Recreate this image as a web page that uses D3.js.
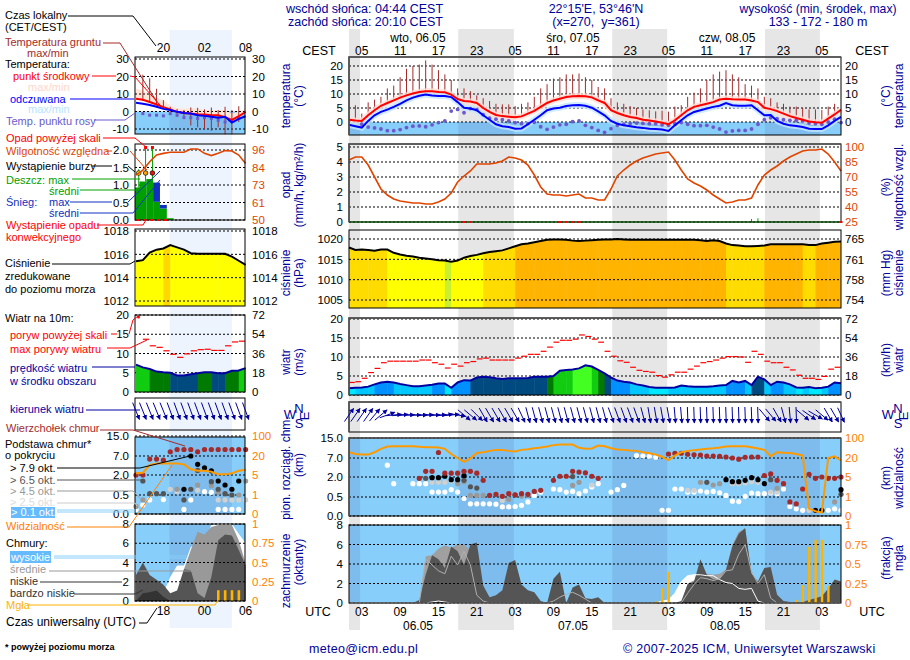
<!DOCTYPE html>
<html>
<head>
<meta charset="utf-8">
<script src="https://d3js.org/d3.v7.min.js"></script>
<style>
body { margin:0; background:#fff; }
svg { display:block; }
text { font-family:"Liberation Sans",Arial,sans-serif; font-size:12.5px; }
</style>
</head>
<body>
<script>
// hourly values, main meteogram: hour 0 = 06.05 01 UTC
var tempMid = [0.8,0.5,0.4,2.4,4.2,5.8,6.8,7.7,8.7,9.5,10.2,10.7,11,11,10.7,10.6,9.8,8.2,7.5,7.3,6.8,5,3.6,2.5,2.1,1.9,1.7,2,3,4,5.4,6.8,7.7,8.3,8.9,9.2,9.3,9.2,8.8,7.7,6.8,4.2,3.2,2.4,1.8,1.4,0.8,0.5,0.2,-0.3,-0.8,0.6,2.4,4.2,5.4,6,6.5,7.1,8,8.3,8.1,8,8,7.7,7.1,5.1,4.6,3.9,3,2.1,1.4,0.8,0.2,-0.1,-0.3,1.2,2.7,4.4];
var tempFeels = [-1,-1.5,-2,0.4,2.4,3.6,4.4,5.4,6.5,7.7,8.7,9.4,9.8,9.5,9.3,9.3,8.9,7.1,5.1,4.8,4.2,2.4,0.8,-0.8,-1.5,-1.8,-2.4,-2.3,-0.8,0.8,2.4,4.2,4.8,5.1,5.7,6,6.1,5.8,5.1,3.8,2.4,0.4,-0.6,-1.2,-1.5,-1.9,-2.1,-2.4,-2.5,-2.7,-3.2,-1.2,0.6,2.4,3.6,4.2,4.8,5.4,5.8,6.8,6,5.8,5.8,6,4.2,2.4,2.5,0.4,-0.6,-1.2,-1.4,-1.8,-2.4,-2.5,-2.5,-1.2,0.4,1.8];
var groundMax = [null,6,3,7,8,9,12,13,16,19,20,20.5,22,20.5,18.5,17,15,12,12,11,9.5,8.5,7.5,6.5,6.3,6.3,5.7,6.5,7,9,12,13.5,15.5,16,17,17,17.3,16,15,12.5,12,8.5,7,6.5,5.7,5,4.5,4.2,3.8,4,3.7,5.5,6,9,10.5,12,15,17,18,18.5,17,16,13.5,13,12,9,8.5,7,6.5,5.5,5.5,5,4.5,4.5,4.3,5.5,6.5,null];
var dewPoint = [null,null,-0.8,-1.8,-2.1,-2.5,-3.1,-3.1,-2.7,-2,-1.5,-1.4,-1.7,-1,-0.2,0.4,3.9,4.5,3.3,4.8,4.4,2.6,1.4,1,0.8,0.4,-0.2,-0.6,-0.6,-0.1,-1.7,-2.6,-1.8,-1,-0.8,0.1,0.4,-1.2,-2,-3,-3.7,-2.4,-1.2,-0.8,-0.6,-0.4,-0.5,-0.6,-0.6,-1,-1.2,-0.6,-0.2,-0.8,-1.3,-1.3,-1.2,-1.8,-2.5,-3.6,-3.2,-3,-3,-2.5,-0.8,0.8,1.5,1.2,0.8,0.6,0.6,0.4,-0.4,-0.6,-0.8,0,1,-0.2];
var humidity = [87,90,90,82,70,58,52,48,46,45,44,44,43,43,45,48,54,65,71,76,83,83,83,84,86,90,89,87,82,72,60,53,52,52,51,52,53,49,49,47,47,58,71,77,82,86,89,91,93,94,95,87,77,68,64,61,57,52,48,44,45,47,47,49,62,72,77,81,86,90,93,96,97,97,98,93,85,76];
var pressure = [1017.9,1017.3,1017.4,1017.3,1017.1,1017.4,1017.4,1016.6,1016.2,1015.9,1015.7,1015.4,1015.2,1015,1014.8,1014.7,1014.4,1014.7,1015.4,1015.8,1016.1,1016.5,1016.8,1017,1017.2,1017.7,1018.2,1018.7,1018.9,1019.2,1019.5,1019.8,1019.9,1019.9,1019.8,1019.6,1019.5,1019.6,1019.7,1019.8,1019.9,1019.9,1020,1019.9,1019.8,1019.8,1019.8,1019.8,1019.8,1019.8,1019.8,1019.8,1019.8,1019.8,1019.8,1019.7,1019.5,1019.7,1019.5,1018.9,1018.5,1018.4,1018.2,1018.2,1018.3,1018.4,1018.7,1018.7,1018.7,1018.7,1018.7,1018.7,1018.5,1018.5,1018.9,1019.1,1019.3,1019.4];
var windSpeed = [1.8,1.9,2,2.2,2.8,3.3,3.5,3.3,2.9,2.6,2.3,2.3,2.5,2.7,3,3,1.9,3.3,3.9,3.8,4.6,4.8,4.7,4.4,4.2,4.4,4.4,4.4,4.5,4.8,4.8,4.8,5,6.4,6.6,6.7,7,7.8,7.5,6.6,5.7,4.6,3.8,3.5,3.3,2.8,2.5,2.1,1.9,1.9,1.9,2,2.5,2.3,2.2,2.2,2.2,2.3,2.5,2.6,3.7,3.3,3.7,2.6,4.8,4.1,2.6,3.5,3.3,2.8,2,1.9,2.1,1.8,1.9,2.2,3.3,3.1];
var windGust = [3.3,3.5,4.4,5.9,7,8.5,8.9,8.9,8.9,8.9,8.9,9.2,9.2,8.5,8.1,7.1,8.1,7.6,8.5,8.8,9.5,9.7,9.2,9.2,9.2,9.2,9.7,10.2,10.7,10.7,11.5,12.6,13.9,14.4,14.4,14.7,15.8,15.4,14.7,13.9,11.5,10.2,9,8.6,7.3,6.5,6.2,6,5.1,4.7,5.3,6,6,6.8,7.6,8.5,8.8,9.2,9.7,10.1,10.1,10,8.6,11.5,10.7,8.9,8.5,8.5,7.3,6.6,5.2,4.4,4.4,4.1,4.9,6.8,7.3,7.3];
var windDir = [35,35,35,35,40,50,70,85,85,88,90,90,88,90,88,85,85,100,130,130,135,150,150,150,150,150,150,155,165,165,165,165,165,165,165,165,165,165,165,165,165,160,160,160,160,160,165,170,170,170,170,175,175,178,178,178,178,178,178,178,178,178,178,178,178,140,140,150,165,175,178,130,125,120,130,150,150,155];
var visibility = [43,36,33.6,33.6,43,56.6,66,67,67,67,67,64.7,63,63,62,56.6,36,20,17,19.7,40,43,48.5,52.5,52.5,48.5,46,52.5,55,59,62,66,71.5,74,74,74,60.7,56.6,58,70,67,59,54,52.5,50,48.5,43,39,33.6,25,18.4,29.5,43,48.5,51,54,56.6,59,62,66,67,67,67,63,58,52.5,26.8,43,41,40,36,29.5,0.39,0.25,0.18,20,26.8,18];
var cloudLow = [0,0,0,0,0,0,0,0,0,0,0,0.3,2.9,4.9,4.5,3.6,5.8,5.3,3.9,6,6.2,1.8,0.6,0.8,1.3,4.1,4.4,1.9,1.3,1.1,0.2,0,2.5,3.2,0,1.6,1.9,0.5,0.4,0.6,0,0,0,0,0,0,0,0,0,0,0,0,0.2,1.9,2.2,4.5,2.9,2.4,2.5,3.4,5.8,7.1,7.7,3,2.2,3.6,3.7,0.85,0.2,0.1,0.1,0.1,0.3,0.5,0.7,1.5,2.4,2.2];
var cloudMid = [0,0,0,0,0,0,0,0,0,0,0,0,4.8,4.9,5.6,5.9,5.7,6,6,5.4,3,0,0,0,0,0,0,0,0,0,0,0,0,0,0,0,0,0,0,0,0,0,0,0,0,0,0,0,0,0,0,0,0,2,2.3,2.9,3,2.9,3,3.4,6,7.3,7.6,3,2,1,0.4,0,0,0,0,0,0,0,0,0,0,0];
var cloudHigh = [0,0,0,0,0,0,0,0,0,0,0,0,0,0.1,0.2,0.1,0,0,0,0,0,0,0,0,0,0,0,0,0,0,0,0,0,0,0,0,0,0,0,0,0,0,0,0,0,0,0,0,0,0.2,0.3,1,2.2,2.8,2.9,2.9,2.8,2.8,2.4,2.1,2,1.5,1.4,1.5,0.2,0,0,0,0,0,0,0,0,0,0,0,0,0];
var cloudOutline = [0,0,0,0,0,0,0,0,0,0,0,0,4.5,3.9,3.3,3,4.8,3.9,5.3,3.9,0.8,0.2,0,0,0,0,0,0,0,0,0,0,0.2,0.6,0.9,1.1,0.8,0.4,0,0,0,0,0,0,0,0,0,0,0,0,0,0,0,1,1.9,2.6,2.5,2.3,2.5,3.3,3.4,5,6,3.2,2,2.9,0.5,0,0,0,0,0,0,0,0,0,0,0];
var fog = [0,0,0,0,0,0,0,0,0,0,0,0,0,0,0,0,0,0,0,0,0,0,0,0,0,0,0,0,0,0,0,0,0,0,0,0,0,0,0,0,0,0,0,0,0,0,0,0,0.02,0.19,0.4,0,0,0,0,0,0,0,0,0,0,0,0,0,0,0,0,0,0,0,0.04,0.23,0.72,0.81,0.81,0.22,0,0];
var rainMax = [[63,0.2],[64,0.25]];
var convective = [18,19,33,34,35,36,77];

// cloud base per cover class, pairs of hour and km
var baseTop = [[11,1.9],[12,3.5],[13,3.5],[14,9.2],[15,3],[16,3],[17,3],[18,3.5],[19,3.5],[20,3],[21,1.75],[22,0.62],[23,0.7],[24,0.55],[25,0.75],[26,0.67],[27,0.75],[28,0.7],[29,0.92],[30,1],[32,1.75],[33,2.2],[34,2.2],[35,3.5],[36,3.3],[37,3.1],[38,2.2],[39,1.9],[50,8.6],[51,8.9],[52,8.9],[53,8.5],[54,8.3],[55,8.2],[56,7.8],[57,7.8],[58,7.7],[59,7.4],[60,7],[61,6.7],[62,7.3],[63,7.4],[64,7.4],[65,2.4],[66,2.8],[67,1.75],[68,1.5],[69,0.37],[70,0.32],[71,1.1],[72,2.7],[73,1.9],[74,2],[75,1.9],[76,1.9],[77,2]];
var base79 = [[13,1.95],[14,1.95],[15,2.2],[16,1.8],[17,1.8],[18,2.4],[59,1.8],[60,1.65],[61,1.65],[62,1.75],[63,1.95],[64,1.8],[65,1.5],[73,0.15],[74,0.15],[77,1.05]];
var base65 = [[12,1.9],[18,1.75],[19,1.27],[20,1.17],[26,0.65],[35,2.1],[56,1.6],[66,1.8],[77,0.7]];
var base45 = [[17,1.5],[18,1.65],[19,0.62],[20,0.62],[21,0.62],[25,0.44],[27,0.57],[28,0.62],[35,1.37],[36,1.6],[55,1.6],[57,1.4],[58,1.5],[67,1.15],[76,0.37]];
var base25 = [[13,1.6],[14,1.6],[15,1.6],[16,1.7],[24,0.41],[34,2.1],[38,1.4],[53,1],[54,1],[60,1.5],[61,1.5],[62,1.55],[63,1.65],[64,1.6],[66,0.87],[67,0.87],[72,0.15],[73,0.15]];
var base01 = [[6,5.1],[7,1.5],[10,1.5],[11,1.5],[12,1.5],[13,0.87],[14,0.87],[15,0.87],[16,1.05],[17,0.87],[18,0.46],[19,0.32],[20,0.32],[21,0.32],[22,0.32],[23,0.31],[24,0.24],[25,0.24],[26,0.25],[27,0.28],[28,0.37],[29,0.62],[30,0.87],[32,1.1],[33,1.05],[34,0.87],[35,0.92],[36,0.75],[37,0.95],[38,1.25],[39,1.5],[41,0.87],[42,1.05],[43,1.37],[45,8],[46,7.9],[47,7.7],[48,7.3],[49,0.15],[50,0.15],[51,1.1],[52,1.1],[53,0.87],[54,0.87],[55,0.95],[56,0.87],[57,0.92],[58,0.82],[59,0.62],[60,0.39],[61,0.38],[62,0.55],[63,0.8],[64,0.75],[65,0.75],[66,0.8],[67,0.75],[68,1.1],[69,0.25],[70,0.19],[71,0.15],[75,0.15],[76,0.19],[77,0.15]];

// small left column: hour 0 = 14 UTC of the day before
var tempMidL = [7.3,6.7,5.4,4,2.5,1.2,-0.2,-0.8,-1.2,-1.5,-1.7,-2.1,-2.1,-3.2,-4.8,-2.7,-0.2];
var tempFeelsL = [5,4.4,3.7,2.7,1.5,0.8,-0.2,-0.8,-1.2,-2.1,-2.5,-3,-3.5,-3,-6.3,-4.2,-2.7];
var tempPaleL = [13,12,10,8,6.5,3.5,1.7,1.7,1.7,1.7,0.8,0.8,0.8,0.8,-1.2,-0.2,1.7];
var groundMaxL = [null,21,19,13,6.5,2.7,1.5,0.8,2.3,2.1,1.2,2.3,0.8,2.7,0.8,3,null];
var groundMinL = [null,6,5,3.5,1.5,-2,-3,-4,-8,-9,-10,-11,-9,-13,-13,-6,null];
var dewPointL = [null,-1.2,-2.1,-2.1,-2.5,-1.2,-2.1,-3.5,-3.5,-4,-3.5,-4,-5,-6,-5.5,-4,null];
var humidityL = [79.5,82.8,88.3,92.7,93.8,94.5,94.5,94.5,96.7,96.7,93.8,92.3,93.8,95.6,95.3,92.7,87.2];
var rainMeanL = [0.93,1.1,1.17,0.52,0.33,0.05,0,0,0,0,0,0,0,0,0,0,0];
var snowMeanL = [0,0,0,0.55,0.1,0,0,0,0,0,0,0,0,0,0,0,0];
var rainMaxL = [1.45,2.2,2.2];
var stormL = ["#ffee00","#ffa500","#ee1100"];
var convectiveL = [0,1,2,3,4];
var pressureL = [1015.4,1015.5,1016.15,1016.4,1016.5,1016.8,1016.6,1016.4,1016.1,1016.05,1016.05,1016.05,1016.05,1016.05,1015.8,1015.45,1015.1];
var windSpeedL = [7.1,6.4,6,5.3,5.1,5,4.3,4.3,4.6,4.9,5.1,5.1,4.9,4.9,5.5,5.6,6.2];
var windGustL = [null,13.7,12,11.6,10.7,9.8,9,9.9,10.7,11,11.1,10.8,10.8,12,13,13.2,null];
var windDirL = [158,158,158,158,158,160,160,160,160,160,160,160,160,160,160,160,160];
var visibilityL = [6.3,6.8,12.9,14,14,14,14,13.4,9.5,8.4,8.4,7.6,5.5,5.5,6.3,8.4,9.2];
var cloudLowL = [2.7,4,2.7,2.2,1.7,0.8,1.1,3.3,3.2,0.8,0.3,2.5,6.3,6.9,6.8,5.3,3.7];
var cloudMidL = [0,0,0,0,0,0,0,3.3,5.3,7.2,6.9,7.7,7.9,7.9,7.9,6.3,3.9];
var cloudHighL = [0,0,0,0,0.8,2.5,3.7,3.7,5.6,6,6,7.9,8,8,8,7,6];
var cloudVeryLowL = [0,0.8,0.9,1.1,0.45,0,0,0,0,0,0,0,0,0,0,0,0];
var fogL = [0,0,0,0,0,0,0,0,0,0,0,0,0.14,0.14,0.14,0.14,0];
var baseTopL = [[0,2],[1,2],[2,6.2],[3,6.2],[4,5.9],[5,8.7],[6,9.6],[7,9.6],[8,9.6],[9,8.7],[10,9.6],[11,9.6],[12,9.6],[13,9.6],[14,9.6],[15,9.6],[16,9.6]];
var base79L = [[7,0.93],[8,7],[9,4.8],[10,3.9],[11,3.1],[12,1.55],[13,1.25],[14,0.93],[15,1.55]];
var base65L = [[1,1.55],[2,0.6],[3,0.6],[4,0.6],[7,0.37],[8,0.93],[9,3.2],[11,1.5],[12,0.93],[13,0.6],[14,0.5]];
var base45L = [[0,0.2],[1,0.37],[6,0.93],[9,1.25],[11,1.2],[12,0.7],[15,0.5],[16,1.55]];
var base25L = [[5,0.93],[6,0.75],[9,0.85],[12,0.37],[13,0.37],[14,0.37],[15,0.37],[16,0.37]];
var base01L = [[0,0.12],[1,0.24],[2,0.37],[4,0.38],[7,0.12],[8,0.37],[10,0.75],[11,0.7],[12,0.12],[13,0.12],[14,0.12],[15,0.12]];

// tick labels
var tempTicks = [0,5,10,15,20];
var precipTicks = [0,1,2,3,4,5];
var humidityLabels = ["25","40","55","70","85","100"];
var pressureTicks = [1005,1010,1015,1020];
var mmHgLabels = ["754","758","761","765"];
var windTicks = [0,5,10,15,20];
var kmhLabels = ["0","18","36","54","72"];
var baseTicks = [0,0.5,2,7,15];
var baseLabels = ["0.0","0.5","2.0","7.0","15.0"];
var visLabels = ["0","1","5","20","100"];
var coverTicks = [0,2,4,6,8];
var fogLabels = ["0","0.25","0.5","0.75","1"];
var tempTicksL = [-10,0,10,20,30];
var precipTicksL = [0,0.5,1,1.5,2];
var precipLabelsL = ["0.0","0.5","1.0","1.5","2.0"];
var humidityLabelsL = ["50","61","73","84","96"];
var pressureTicksL = [1012,1014,1016,1018];
var localHours = ["05","11","17","23","05","11","17","23","05","11","17","23","05"];
var utcHours = ["03","09","15","21","03","09","15","21","03","09","15","21","03"];
var nights = [[-1,1.73],[17.1,25.8],[41.2,49.8],[65.1,73.7]];
var nightsL = [[4.9,14]];

var WIDTH = 910, HEIGHT = 660;
var NAVY = "#00009a", ORANGE = "#ff8000", RHCOL = "#e04500";

var svg = d3.select("body").append("svg").attr("width", WIDTH).attr("height", HEIGHT);
var clipCount = 0;

var xMain = d3.scaleLinear().domain([0,77]).range([349,841]);
var xLeft = d3.scaleLinear().domain([0,16]).range([136,245.6]);

var pressureFill = d3.scaleThreshold().domain([1014.5,1016.7,1018.6]).range(["#c8f030","#ffff00","#ffdc00","#ffb400"]);
var pressureFillL = d3.scaleThreshold().domain([1016.7]).range(["#ffff00","#ffd800"]);
var windFill = d3.scaleThreshold().domain([2,3,4,5,6,7]).range(["#00e8ff","#00c8ff","#0090ff","#004a80","#007a00","#11cc11","#44ff22"]);

function lineOf(x, y) {
	return d3.line().defined(function(d){ return d != null; })
		.x(function(d,i){ return x(i); }).y(function(d){ return y(d); });
}

// night strips behind the panels
function nightBand(x, list, y0, y1, color) {
	svg.append("g").selectAll("rect").data(list).enter().append("rect")
		.attr("x", function(d){ return Math.max(x(d[0]), x.range()[0]); })
		.attr("width", function(d){ return x(d[1]) - Math.max(x(d[0]), x.range()[0]); })
		.attr("y", y0).attr("height", y1-y0).attr("fill", color);
}
nightBand(xMain, nights, 29, 630, "#e6e6e6");
nightBand(xLeft, nightsL, 30, 628, "#eef4fd");

// grid and border, vertical lines every 3 hours
function frame(g, p, x, y, ticks, grid3) {
	g.append("g").selectAll("line").data(ticks).enter().append("line")
		.attr("x1", p.x0).attr("x2", p.x1)
		.attr("y1", y).attr("y2", y)
		.attr("stroke","#000").attr("stroke-dasharray","2,2");
	g.append("g").selectAll("line").data(grid3).enter().append("line")
		.attr("x1", x).attr("x2", x).attr("y1", p.y0).attr("y2", p.y1)
		.attr("stroke","#000").attr("stroke-dasharray","2,2");
}
function border(g, p, thick) {
	g.append("rect").attr("x",p.x0).attr("y",p.y0).attr("width",p.x1-p.x0).attr("height",p.y1-p.y0)
		.attr("fill","none").attr("stroke","#000").attr("stroke-width",1);
	if (thick) {
		g.append("path").attr("d","M"+p.x0+" "+p.y1+"V"+p.y0+"H"+p.x1)
			.attr("fill","none").attr("stroke","#555").attr("stroke-width",1.6);
	}
}
function tickLabels(g, p, y, vals, labels, side, color) {
	var ax = (side == "left" ? d3.axisLeft(y) : d3.axisRight(y))
		.tickValues(vals).tickSize(0).tickPadding(0)
		.tickFormat(function(d){ return labels[vals.indexOf(d)]; });
	var a = g.append("g").attr("transform","translate("+(side=="left" ? p.x0-p.padL : p.x1+p.padR)+",0)").call(ax);
	a.select(".domain").remove();
	a.selectAll("text").attr("fill",color).style("font-size","11.5px").style("font-family",'"Liberation Sans",Arial,sans-serif');
}
function skyOverlay(g, p, x, list) {
	g.append("g").selectAll("rect").data(list).enter().append("rect")
		.attr("x", function(d){ return Math.max(x(d[0]),p.x0); })
		.attr("width", function(d){ return x(d[1])-Math.max(x(d[0]),p.x0); })
		.attr("y",p.y0).attr("height",p.y1-p.y0).attr("fill","#5f86c2").attr("opacity",0.25);
}
function sky(g, p, x, list) {
	g.append("rect").attr("x",p.x0).attr("y",p.y0).attr("width",p.x1-p.x0).attr("height",p.y1-p.y0).attr("fill","#87cefa");
	skyOverlay(g,p,x,list);
}
function clipped(g, id, d) {
	var cid = "clip" + id + (clipCount++);
	g.append("clipPath").attr("id",cid).append("path").attr("d",d);
	return g.append("g").attr("clip-path","url(#"+cid+")");
}
function columns(g, p, x, values, y, fill) {
	// one coloured column per hour, ending at its hour and cut to the area under the line
	var a = d3.area().x(function(d,i){ return x(i); }).y0(p.y1).y1(function(d){ return y(d); });
	var c = clipped(g, "a", a(values));
	var w = x(1)-x(0);
	c.selectAll("rect").data(values).enter().append("rect")
		.attr("x", function(d,i){ return x(i)-w; }).attr("width", w+0.5)
		.attr("y",p.y0).attr("height",p.y1-p.y0)
		.attr("fill", function(d){ return fill(d); });
}
function gustDashes(g, x, y, values) {
	var w = x(1)-x(0);
	g.append("g").selectAll("line").data(values).enter().append("line")
		.attr("display",function(d){ return d == null ? "none" : null; })
		.attr("x1",function(d,i){ return x(i); })
		.attr("x2",function(d,i){ return Math.min(x(i)+w-0.6,x.range()[1]); })
		.attr("y1",function(d){ return y(d); }).attr("y2",function(d){ return y(d); })
		.attr("stroke","#ff0000").attr("stroke-width",1.2);
}
function windArrows(g, x, yc, dirs, len) {
	var defs = g.append("defs").append("marker").attr("id","head"+len)
		.attr("viewBox","0 0 8 8").attr("refX",7).attr("refY",4)
		.attr("markerWidth",5).attr("markerHeight",5).attr("markerUnits","userSpaceOnUse").attr("orient","auto");
	defs.append("path").attr("d","M0 0L8 4L0 8Z").attr("fill","#0000a0");
	g.append("g").selectAll("line").data(dirs).enter().append("line")
		.attr("x1",function(d,i){ return x(i)-Math.sin(d*Math.PI/180)*len/2; })
		.attr("y1",function(d){ return yc+Math.cos(d*Math.PI/180)*len/2; })
		.attr("x2",function(d,i){ return x(i)+Math.sin(d*Math.PI/180)*len/2; })
		.attr("y2",function(d){ return yc-Math.cos(d*Math.PI/180)*len/2; })
		.attr("stroke","#0000a0").attr("stroke-width",1).attr("marker-end","url(#head"+len+")");
}
function baseDots(g, x, y, data, color, r) {
	g.append("g").selectAll("circle").data(data).enter().append("circle")
		.attr("cx",function(d){ return x(d[0]); }).attr("cy",function(d){ return y(d[1]); })
		.attr("r",r).attr("fill",color);
}
function cloudArea(g, x, y, values, color) {
	var a = d3.area().x(function(d,i){ return x(i); }).y0(y(0)).y1(function(d){ return y(d); });
	g.append("path").attr("d",a(values)).attr("fill",color);
}
function groundBars(g, x, y, tops, bottoms) {
	g.append("g").selectAll("line").data(tops).enter().append("line")
		.attr("display",function(d){ return d == null ? "none" : null; })
		.attr("x1",function(d,i){ return x(i); }).attr("x2",function(d,i){ return x(i); })
		.attr("y1",function(d){ return y(d); })
		.attr("y2",function(d,i){ return y(bottoms[i]); })
		.attr("stroke","#a52a2a").attr("stroke-width",1);
}

/* ---------- main column ---------- */
var M = svg.append("g");
var grid3 = d3.range(2,78,3).map(function(d){ return xMain(d); });
function mp(y0,y1) { return {x0:349,x1:841,y0:y0,y1:y1,padL:6,padR:4}; }

// temperature
var p = mp(57,135);
var y = d3.scaleLinear().domain([0,20]).range([122,66]);
M.append("rect").attr("x",p.x0).attr("width",p.x1-p.x0).attr("y",y(0)).attr("height",p.y1-y(0)).attr("fill","#87cefa");
M.append("g").selectAll("rect").data(nights).enter().append("rect")
	.attr("x",function(d){ return Math.max(xMain(d[0]),p.x0); })
	.attr("width",function(d){ return xMain(d[1])-Math.max(xMain(d[0]),p.x0); })
	.attr("y",y(0)).attr("height",p.y1-y(0)).attr("fill","#5f86c2").attr("opacity",0.25);
frame(M,p,xMain,y,tempTicks,grid3);
groundBars(M,xMain,y,groundMax,tempMid);
M.append("path").attr("d",lineOf(xMain,y)(tempMid)).attr("fill","none").attr("stroke","#ffdcd4").attr("stroke-width",6).attr("opacity",0.8);
M.append("path").attr("d",lineOf(xMain,y)(tempFeels)).attr("fill","none").attr("stroke","#c4e6ff").attr("stroke-width",6).attr("opacity",0.8);
M.append("g").selectAll("circle").data(dewPoint).enter().append("circle")
	.attr("cx",function(d,i){ return xMain(i); }).attr("cy",function(d){ return d==null ? -9 : y(d); })
	.attr("r",1.9).attr("fill","#6a5acd");
M.append("path").attr("d",lineOf(xMain,y)(tempMid)).attr("fill","none").attr("stroke","#ff0000").attr("stroke-width",2);
M.append("path").attr("d",lineOf(xMain,y)(tempFeels)).attr("fill","none").attr("stroke","#0000ff").attr("stroke-width",2);
border(M,p,true);
tickLabels(M,p,y,tempTicks,tempTicks,"left","#000");
tickLabels(M,p,y,tempTicks,tempTicks,"right","#000");

// precipitation and humidity
p = mp(144,222);
y = d3.scaleLinear().domain([0,5]).range([222,147]);
var yRh = d3.scaleLinear().domain([25,100]).range([222,147]);
frame(M,p,xMain,y,precipTicks,grid3);
M.append("g").selectAll("line").data(rainMax).enter().append("line")
	.attr("x1",function(d){ return xMain(d[0]); }).attr("x2",function(d){ return xMain(d[0]); })
	.attr("y1",function(d){ return y(d[1]); }).attr("y2",y(0)).attr("stroke","#00aa00");
M.append("path").attr("d",lineOf(xMain,yRh)(humidity)).attr("fill","none").attr("stroke",RHCOL).attr("stroke-width",1.6);
border(M,p,true);
M.append("line").attr("x1",p.x0).attr("x2",p.x1).attr("y1",p.y1).attr("y2",p.y1).attr("stroke","#006400");
M.append("g").selectAll("rect").data(convective).enter().append("rect")
	.attr("x",function(d){ return xMain(d)-1.5; }).attr("y",p.y1-1).attr("width",3).attr("height",2).attr("fill","#ff0000");
tickLabels(M,p,y,precipTicks,precipTicks,"left","#000");
tickLabels(M,p,y,precipTicks,humidityLabels,"right",RHCOL);

// pressure
p = mp(230,308);
y = d3.scaleLinear().domain([1005,1020]).range([300,239]);
columns(M,p,xMain,pressure,y,pressureFill);
frame(M,p,xMain,y,pressureTicks,grid3);
M.append("path").attr("d",lineOf(xMain,y)(pressure)).attr("fill","none").attr("stroke","#000").attr("stroke-width",2);
border(M,p,false);
tickLabels(M,p,y,pressureTicks,pressureTicks,"left","#000");
tickLabels(M,p,y,pressureTicks,mmHgLabels,"right","#000");

// wind
p = mp(318,395);
y = d3.scaleLinear().domain([0,20]).range([395,319]);
frame(M,p,xMain,y,windTicks,grid3);
columns(M,p,xMain,windSpeed,y,windFill);
gustDashes(M,xMain,y,windGust);
M.append("path").attr("d",lineOf(xMain,y)(windSpeed)).attr("fill","none").attr("stroke","#0000a0").attr("stroke-width",2);
border(M,p,true);
tickLabels(M,p,y,windTicks,windTicks,"left","#000");
tickLabels(M,p,y,windTicks,kmhLabels,"right","#000");

// wind direction
p = mp(402,432);
frame(M,p,xMain,function(){ return 0; },[],grid3);
border(M,p,true);
windArrows(M,xMain,415,windDir,16);

// cloud base and visibility
p = mp(438,516);
var kmRange = [516,497,477,458,438];
y = d3.scaleLinear().domain(baseTicks).range(kmRange);
var yVis = d3.scaleLinear().domain([0,1,5,20,100]).range(kmRange);
sky(M,p,xMain,nights);
frame(M,p,xMain,y,baseTicks,grid3);
baseDots(M,xMain,y,base01,"#ffffff",2.6);
baseDots(M,xMain,y,base25,"#d0d0d0",2.6);
baseDots(M,xMain,y,base45,"#999999",2.6);
baseDots(M,xMain,y,base65,"#555555",2.6);
baseDots(M,xMain,y,base79,"#000000",2.6);
baseDots(M,xMain,y,baseTop,"#a52a2a",2.6);
M.append("path").attr("d",lineOf(xMain,yVis)(visibility)).attr("fill","none").attr("stroke","#ff9900").attr("stroke-width",2);
border(M,p,true);
tickLabels(M,p,y,baseTicks,baseLabels,"left","#000");
tickLabels(M,p,y,baseTicks,visLabels,"right",ORANGE);

// cloud cover and fog
p = mp(525,603);
y = d3.scaleLinear().domain([0,8]).range([603,525]);
var yFog = d3.scaleLinear().domain([0,1]).range([603,525]);
sky(M,p,xMain,nights);
cloudArea(M,xMain,y,cloudHigh,"#ffffff");
cloudArea(M,xMain,y,cloudMid,"#a0a0a0");
cloudArea(M,xMain,y,cloudLow,"#555555");
frame(M,p,xMain,y,coverTicks,grid3);
M.append("path").attr("d",lineOf(xMain,y)(cloudHigh)).attr("fill","none").attr("stroke","#fff").attr("stroke-width",1);
M.append("path").attr("d",lineOf(xMain,y)(cloudOutline)).attr("fill","none").attr("stroke","#b0b0b0").attr("stroke-width",1);
M.append("g").selectAll("rect").data(fog).enter().append("rect")
	.attr("x",function(d,i){ return xMain(i)-1; }).attr("width",2.4)
	.attr("y",function(d){ return yFog(d); }).attr("height",function(d){ return yFog(0)-yFog(d); })
	.attr("fill","#ffb400");
border(M,p,false);
tickLabels(M,p,y,coverTicks,coverTicks,"left","#000");
tickLabels(M,p,y,coverTicks,fogLabels,"right",ORANGE);

/* ---------- left legend column ---------- */
var L = svg.append("g");
var grid3L = [1,4,7,10,13,16].map(function(d){ return xLeft(d); });
function lp(y0,y1) { return {x0:135,x1:245,y0:y0,y1:y1,padL:6,padR:7}; }

// temperature
p = lp(57,134);
y = d3.scaleLinear().domain([-10,30]).range([129,59]);
L.append("rect").attr("x",p.x0).attr("width",p.x1-p.x0).attr("y",y(0)).attr("height",p.y1-y(0)).attr("fill","#87cefa");
L.append("rect").attr("x",xLeft(4.9)).attr("width",xLeft(14)-xLeft(4.9)).attr("y",y(0)).attr("height",p.y1-y(0)).attr("fill","#5f86c2").attr("opacity",0.25);
var paleArea = d3.area().x(function(d,i){ return xLeft(i); }).y0(function(d,i){ return y(tempMidL[i]); }).y1(function(d){ return y(d); });
L.append("path").attr("d",paleArea(tempPaleL)).attr("fill","#ffe4d8");
frame(L,p,xLeft,y,tempTicksL,grid3L);
groundBars(L,xLeft,y,groundMaxL,groundMinL);
L.append("g").selectAll("rect").data(dewPointL).enter().append("rect")
	.attr("x",function(d,i){ return xLeft(i)-1.5; }).attr("y",function(d){ return d==null ? -9 : y(d)-1.5; })
	.attr("width",3).attr("height",3).attr("fill","#6a5acd");
L.append("path").attr("d",lineOf(xLeft,y)(tempMidL)).attr("fill","none").attr("stroke","#ff0000").attr("stroke-width",2);
L.append("path").attr("d",lineOf(xLeft,y)(tempFeelsL)).attr("fill","none").attr("stroke","#0000ff").attr("stroke-width",2);
border(L,p,false);
tickLabels(L,p,y,tempTicksL,tempTicksL,"left","#000");
tickLabels(L,p,y,tempTicksL,tempTicksL,"right","#000");

// precipitation
p = lp(144,220);
y = d3.scaleLinear().domain([0,2]).range([220,150]);
yRh = d3.scaleLinear().domain([50,96]).range([220,150]);
frame(L,p,xLeft,y,precipTicksL,grid3L);
var barW = xLeft(1)-xLeft(0);
L.append("g").selectAll("rect").data(rainMeanL).enter().append("rect")
	.attr("x",function(d,i){ return Math.max(xLeft(i)-barW/2,p.x0); }).attr("width",barW)
	.attr("y",function(d){ return y(d); }).attr("height",function(d){ return y(0)-y(d); }).attr("fill","#00a000");
L.append("g").selectAll("rect").data(snowMeanL).enter().append("rect")
	.attr("x",function(d,i){ return xLeft(i)-barW/2; }).attr("width",barW)
	.attr("y",function(d,i){ return y(rainMeanL[i]+d); }).attr("height",function(d){ return y(0)-y(d); }).attr("fill","#1030c0");
L.append("g").selectAll("line").data(rainMaxL).enter().append("line")
	.attr("x1",function(d,i){ return xLeft(i+0.4); }).attr("x2",function(d,i){ return xLeft(i+0.4); })
	.attr("y1",function(d){ return Math.max(y(d),147); }).attr("y2",function(d,i){ return y(rainMeanL[i]); }).attr("stroke","#00a000");
L.append("g").selectAll("rect").data(rainMaxL.slice(1)).enter().append("rect")
	.attr("x",function(d,i){ return xLeft(i+1.4)-1.5; }).attr("y",146).attr("width",3).attr("height",3).attr("fill","#ff0000");
L.append("g").selectAll("circle").data(stormL).enter().append("circle")
	.attr("cx",function(d,i){ return xLeft(i+0.4); }).attr("cy",173).attr("r",2.3)
	.attr("fill",function(d){ return d; }).attr("stroke","#000").attr("stroke-width",0.7);
L.append("path").attr("d",lineOf(xLeft,yRh)(humidityL)).attr("fill","none").attr("stroke",RHCOL).attr("stroke-width",1.6);
border(L,p,false);
L.append("g").selectAll("rect").data(convectiveL).enter().append("rect")
	.attr("x",function(d){ return xLeft(d+0.3)-1.5; }).attr("y",p.y1-1).attr("width",3).attr("height",2).attr("fill","#ff0000");
tickLabels(L,p,y,precipTicksL,precipLabelsL,"left","#000");
tickLabels(L,p,y,precipTicksL,humidityLabelsL,"right",RHCOL);

// pressure
p = lp(229,306);
y = d3.scaleLinear().domain([1012,1018]).range([301,231]);
columns(L,p,xLeft,pressureL,y,pressureFillL);
frame(L,p,xLeft,y,pressureTicksL,grid3L);
L.append("path").attr("d",lineOf(xLeft,y)(pressureL)).attr("fill","none").attr("stroke","#000").attr("stroke-width",2);
border(L,p,false);
tickLabels(L,p,y,pressureTicksL,pressureTicksL,"left","#000");
tickLabels(L,p,y,pressureTicksL,pressureTicksL,"right","#000");

// wind
p = lp(315,392);
y = d3.scaleLinear().domain([0,20]).range([392,315]);
frame(L,p,xLeft,y,windTicks,grid3L);
columns(L,p,xLeft,windSpeedL,y,windFill);
gustDashes(L,xLeft,y,windGustL);
L.append("path").attr("d",lineOf(xLeft,y)(windSpeedL)).attr("fill","none").attr("stroke","#0000a0").attr("stroke-width",2);
L.append("circle").attr("cx",138.5).attr("cy",317).attr("r",1.5).attr("fill","#ff0000");
border(L,p,false);
tickLabels(L,p,y,windTicks,windTicks,"left","#000");
tickLabels(L,p,y,windTicks,kmhLabels,"right","#000");

// wind direction
p = lp(398,430);
frame(L,p,xLeft,function(){ return 0; },[],grid3L);
border(L,p,false);
windArrows(L,xLeft,411,windDirL,18);

// cloud base and visibility
p = lp(437,514);
kmRange = [514,495,475,456,436];
y = d3.scaleLinear().domain(baseTicks).range(kmRange);
yVis = d3.scaleLinear().domain([0,1,5,20,100]).range(kmRange);
sky(L,p,xLeft,nightsL);
frame(L,p,xLeft,y,baseTicks,grid3L);
baseDots(L,xLeft,y,base01L,"#ffffff",2.6);
baseDots(L,xLeft,y,base25L,"#d0d0d0",2.6);
baseDots(L,xLeft,y,base45L,"#999999",2.6);
baseDots(L,xLeft,y,base65L,"#555555",2.6);
baseDots(L,xLeft,y,base79L,"#000000",2.6);
baseDots(L,xLeft,y,baseTopL,"#a52a2a",2.6);
L.append("path").attr("d",lineOf(xLeft,yVis)(visibilityL)).attr("fill","none").attr("stroke","#ff9900").attr("stroke-width",2);
border(L,p,false);
tickLabels(L,p,y,baseTicks,baseLabels,"left","#000");
tickLabels(L,p,y,baseTicks,visLabels,"right",ORANGE);

// cloud cover and fog
p = lp(524,601);
y = d3.scaleLinear().domain([0,8]).range([601,524]);
yFog = d3.scaleLinear().domain([0,1]).range([601,524]);
sky(L,p,xLeft,nightsL);
cloudArea(L,xLeft,y,cloudHighL,"#ffffff");
cloudArea(L,xLeft,y,cloudMidL,"#999999");
cloudArea(L,xLeft,y,cloudLowL,"#555555");
cloudArea(L,xLeft,y,cloudVeryLowL,"#333333");
frame(L,p,xLeft,y,coverTicks,grid3L);
L.append("g").selectAll("rect").data(fogL).enter().append("rect")
	.attr("x",function(d,i){ return xLeft(i)-1.2; }).attr("width",2.6)
	.attr("y",function(d){ return yFog(d); }).attr("height",function(d){ return yFog(0)-yFog(d); })
	.attr("fill","#ffb400");
border(L,p,false);
tickLabels(L,p,y,coverTicks,coverTicks,"left","#000");
tickLabels(L,p,y,coverTicks,fogLabels,"right",ORANGE);

/* ---------- texts ---------- */
function label(x,y,txt,color,anchor,size) {
	return svg.append("text").attr("x",x).attr("y",y).text(txt)
		.attr("fill",color||"#000").attr("text-anchor",anchor||"start")
		.style("font-size",(size||12.5)+"px");
}
function vlabel(x,y,txt,color) {
	return svg.append("text").attr("transform","translate("+x+","+y+") rotate(-90)").text(txt)
		.attr("fill",color||NAVY).attr("text-anchor","middle").style("font-size","12px");
}

label(286,13,"wschód słońca: 04:44 CEST",NAVY);
label(288,26,"zachód słońca: 20:10 CEST",NAVY);
label(596,13,"22°15'E, 53°46'N",NAVY,"middle");
label(596,26,"(x=270,\u00a0\u00a0y=361)",NAVY,"middle");
label(818,13,"wysokość (min, środek, max)",NAVY,"middle",12.2);
label(818,26,"133 - 172 - 180 m",NAVY,"middle");
label(418,42,"wto, 06.05","#000","middle",12);
label(573,42,"śro, 07.05","#000","middle",12);
label(727,42,"czw, 08.05","#000","middle",12);
label(319,55,"CEST","#000","middle");
label(872,55,"CEST","#000","middle");
localHours.forEach(function(h,i){ label(xMain(2+i*6),55,h,"#000","middle",12); });
label(318,616,"UTC","#000","middle");
label(872,616,"UTC","#000","middle");
utcHours.forEach(function(h,i){ label(xMain(2+i*6),616,h,"#000","middle",12); });
label(418,630,"06.05","#000","middle",12);
label(573,630,"07.05","#000","middle",12);
label(725,630,"08.05","#000","middle",12);
label(309,653,"meteo@icm.edu.pl",NAVY).style("letter-spacing","0.3px");
label(623,653,"© 2007-2025 ICM, Uniwersytet Warszawski",NAVY).style("letter-spacing","0.3px");

["20","02","08"].forEach(function(h,i){ label(xLeft(4+i*6),52,h,"#000","middle",12); });
["18","00","06"].forEach(function(h,i){ label(xLeft(4+i*6),615,h,"#000","middle",12); });

vlabel(290,96,"temperatura"); vlabel(303,96,"(°C)");
vlabel(290,185,"opad"); vlabel(303,185,"(mm/h, kg/m²/h)");
vlabel(290,273,"ciśnienie"); vlabel(303,273,"(hPa)");
vlabel(290,362,"wiatr"); vlabel(303,362,"(m/s)");
vlabel(290,468,"pion. rozciągł. chm."); vlabel(303,465,"(km)");
vlabel(290,571,"zachmurzenie"); vlabel(303,562,"(oktanty)");
vlabel(890,96,"(°C)"); vlabel(903,96,"temperatura");
vlabel(890,187,"(%)"); vlabel(903,187,"wilgotność wzgl.");
vlabel(890,273,"(mm Hg)"); vlabel(903,273,"ciśnienie");
vlabel(890,360,"(km/h)"); vlabel(903,360,"wiatr");
vlabel(890,478,"(km)"); vlabel(903,478,"widzialność");
vlabel(890,558,"(frakcja)"); vlabel(903,558,"mgła");

// compass letters on both sides of the wind direction panel
[[290,299,305],[888,898,904]].forEach(function(c){
	label(c[0],419,"W",NAVY,"middle",13);
	label(c[1],413,"N",NAVY,"middle",13);
	label(c[1],428,"S",NAVY,"middle",13);
	svg.append("text").attr("transform","translate("+(c[2]+4)+",416) rotate(-90)").text("E")
		.attr("fill",NAVY).attr("text-anchor","middle").style("font-size","13px");
});

// legend text on the far left
var legendRows = [
	[5,19,"Czas lokalny","#000"],[5,31,"(CET/CEST)","#000"],
	[5,46,"Temperatura gruntu","#a52a2a"],[27,57,"max/min","#a52a2a"],
	[5,68,"Temperatura:","#000"],[13,80,"punkt środkowy","#ff0000"],
	[28,91,"max/min","#ffd8c8"],[10,103,"odczuwana","#0000ff"],
	[28,113,"max/min","#b8e2ff"],[6,125,"Temp. punktu rosy","#6a5acd"],
	[6,142,"Opad powyżej skali","#ff0000"],[6,155,"Wilgotność względna",RHCOL],
	[6,170,"Wystąpienie burzy","#000"],[6,184,"Deszcz: max","#00a000"],
	[49,195,"średni","#00a000"],[6,206,"Śnieg:","#1030c0"],[49,206,"max","#1030c0"],
	[49,217,"średni","#1030c0"],[6,229,"Wystąpienie opadu","#ff0000"],
	[6,241,"konwekcyjnego","#ff0000"],[5,267,"Ciśnienie","#000"],
	[5,280,"zredukowane","#000"],[5,293,"do poziomu morza","#000"],
	[5,322,"Wiatr na 10m:","#000"],[10,339,"poryw powyżej skali","#ff0000"],
	[10,353,"max porywy wiatru","#ff0000"],[10,372,"prędkość wiatru","#0000a0"],
	[10,385,"w środku obszaru","#0000a0"],[10,413,"kierunek wiatru","#0000a0"],
	[6,432,"Wierzchołek chmur","#a52a2a"],[5,448,"Podstawa chmur*","#000"],
	[5,459,"o pokryciu","#000"],[10,472,"> 7.9 okt.","#000"],
	[10,484,"> 6.5 okt.","#555"],[10,495,"> 4.5 okt.","#999"],
	[10,506,"> 2.5 okt.","#ddd"],[6,530,"Widzialność",ORANGE],
	[6,547,"Chmury:","#000"],[10,573,"średnie","#999"],[10,585,"niskie","#333"],
	[10,597,"bardzo niskie","#333"],[6,609,"Mgła","#ffb400"]
];
svg.append("rect").attr("x",11).attr("y",507).attr("width",44).attr("height",11).attr("fill","#66bbff");
svg.append("rect").attr("x",10).attr("y",551).attr("width",41).attr("height",12).attr("fill","#66bbff");
legendRows.forEach(function(r){ label(r[0],r[1],r[2],r[3],"start",11); });
label(11,516,"> 0.1 okt.","#fff","start",11);
label(11,561,"wysokie","#fff","start",11);
label(6,626,"Czas uniwersalny (UTC)","#000","start",12);
label(5,650,"* powyżej poziomu morza","#000","start",9).style("font-weight","bold");

// leader lines from legend text to the plots
var leaders = [
	["#000",[[68,16],[133,16],[156,46]]],
	["#a52a2a",[[103,43],[120,43],[157,102]]],
	["#ff0000",[[92,76],[116,76]]],["#ff0000",[[130,76],[135,77],[160,105]]],
	["#0000ff",[[70,99],[134,99]]],
	["#6a5acd",[[94,120],[125,120],[135,113]]],
	["#ff0000",[[103,138],[135,138],[146,147]]],
	[RHCOL,[[106,151],[112,151]]],[RHCOL,[[130,151],[147,170]]],
	["#000",[[92,166],[112,166]]],["#000",[[128,166],[135,172]]],
	["#00a000",[[72,179],[140,179]]],["#00a000",[[80,190],[140,190]]],
	["#1030c0",[[70,202],[112,202]]],["#1030c0",[[128,202],[160,171]]],
	["#1030c0",[[80,213],[133,213],[160,180]]],
	["#ff0000",[[97,225],[143,225],[146,220]]],
	["#000",[[52,264],[130,264],[135,261]]],
	["#ff0000",[[111,334],[117,334]]],["#ff0000",[[129,334],[133,320],[138,316]]],
	["#ff0000",[[107,348],[130,348],[147,340]]],
	["#0000a0",[[92,367],[135,367]]],["#0000a0",[[86,410],[140,410]]],
	["#a52a2a",[[100,430],[133,430],[185,446]]],
	["#000",[[57,468],[140,468],[190,456]]],
	["#555",[[57,480],[142,480]]],
	["#999",[[57,491],[133,491],[140,498]]],
	["#ccc",[[57,503],[135,503],[137,506]]],
	["#87cefa",[[57,510],[135,510]]],["#87cefa",[[57,512],[135,512]]],
	[ORANGE,[[67,527],[129,527],[172,465]]],
	["#87cefa",[[54,556],[186,556]]],["#87cefa",[[54,558],[186,558]]],
	["#999",[[49,571],[193,571]]],
	["#333",[[40,582],[122,582]]],["#333",[[74,594],[135,594],[143,590]]],
	["#ffb400",[[27,605],[215,605],[218,600]]],
	["#000",[[139,623],[147,623],[157,608]]]
];
var leaderLine = d3.line();
svg.append("g").selectAll("path").data(leaders).enter().append("path")
	.attr("d",function(d){ return leaderLine(d[1]); })
	.attr("fill","none").attr("stroke",function(d){ return d[0]; }).attr("stroke-width",1);
</script>
</body>
</html>
